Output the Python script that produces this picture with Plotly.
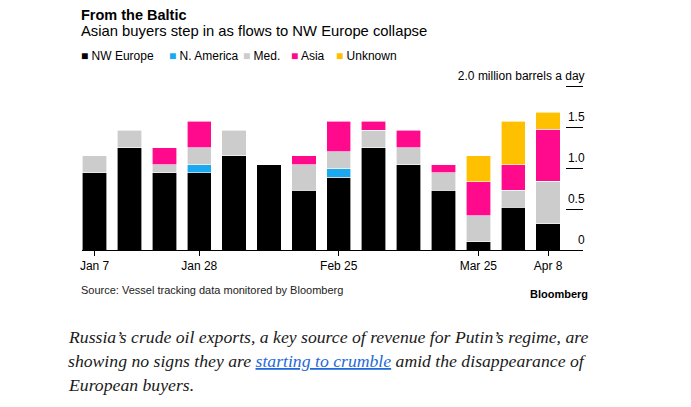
import plotly.graph_objects as go

# ---- data ----
dates = ["Jan 7", "Jan 14", "Jan 21", "Jan 28", "Feb 4", "Feb 11", "Feb 18",
         "Feb 25", "Mar 4", "Mar 11", "Mar 18", "Mar 25", "Apr 1", "Apr 8"]
nw_europe = [0.94, 1.25, 0.94, 0.94, 1.15, 1.04, 0.73, 0.89, 1.25, 1.04, 0.73, 0.10, 0.52, 0.32]
n_america = [None, None, None, 0.10, None, None, None, 0.10, None, None, None, None, None, None]
med = [0.21, 0.21, 0.10, 0.21, 0.31, None, 0.31, 0.21, 0.21, 0.21, 0.21, 0.32, 0.21, 0.52]
asia = [None, None, 0.21, 0.32, None, None, 0.11, 0.37, 0.11, 0.21, 0.10, 0.41, 0.31, 0.63]
unknown = [None, None, None, None, None, None, None, None, None, None, None, 0.32, 0.53, 0.21]

series_names = ["NW Europe", "N. America", "Med.", "Asia", "Unknown"]
series_colors = ["#000000", "#1AA8F0", "#CCCCCC", "#FF0A8C", "#FFC000"]
series_values = [nw_europe, n_america, med, asia, unknown]

x_tick_labels = ["Jan 7", "Jan 28", "Feb 25", "Mar 25", "Apr 8"]
y_tick_values = [0, 0.5, 1.0, 1.5, 2.0]
y_tick_labels = ["0", "0.5", "1.0", "1.5", "2.0 million barrels a day"]

title = "From the Baltic"
subtitle = "Asian buyers step in as flows to NW Europe collapse"
source = "Source: Vessel tracking data monitored by Bloomberg"
para = [
    "Russia’s crude oil exports, a key source of revenue for Putin’s regime, are",
    "showing no signs they are <span style=\"color:#1F6AD8\"><u>starting to crumble</u></span> amid the disappearance of",
    "European buyers.",
]

# ---- layout helpers (pixel -> paper) ----
W, H = 691, 407
L, R, T, B = 82, 108, 86, 157


def px(x):
    return (x - L) / (W - L - R)


def py(y):
    return (H - B - y) / (H - B - T)


SANS = "Liberation Sans, Arial, sans-serif"
SERIF = "Liberation Serif, Times New Roman, serif"

fig = go.Figure()
for name, vals, col in zip(series_names, series_values, series_colors):
    fig.add_bar(x=dates, y=vals, name=name, showlegend=False,
                marker=dict(color=col, line=dict(color="white", width=0.6)))

fig.update_layout(
    barmode="stack", bargap=0.3,
    width=W, height=H,
    margin=dict(l=L, r=R, t=T, b=B, pad=0),
    paper_bgcolor="white", plot_bgcolor="white",
    font=dict(family=SANS, color="#000000", size=12),
)

fig.update_xaxes(
    type="category", range=[-0.36, 14.0], automargin=False,
    tickmode="array", tickvals=x_tick_labels, ticktext=x_tick_labels,
    ticks="outside", ticklen=5, tickwidth=1, tickcolor="#000000",
    showline=True, linecolor="#000000", linewidth=1, showgrid=False,
    tickfont=dict(size=12, color="#000000"),
)
fig.update_yaxes(
    range=[0, 2.0], side="left", anchor="free", position=1.0, automargin=False,
    tickmode="array", tickvals=y_tick_values, ticktext=y_tick_labels,
    ticks="outside", ticklen=17, tickwidth=1, tickcolor="#000000",
    ticklabelstandoff=-21, ticklabelshift=-10,
    showgrid=False, zeroline=False, showline=False,
    tickfont=dict(size=12, color="#000000"),
)

ann = []
ann.append(dict(text="<b>" + title + "</b>", x=px(79), y=py(15), font=dict(size=14.5, family=SANS, color="#000000")))
ann.append(dict(text=subtitle, x=px(79), y=py(31), font=dict(size=14.8, family=SANS, color="#000000")))

legend_x = [79, 167, 241, 289, 334]
for lx, name, col in zip(legend_x, series_names, series_colors):
    ann.append(dict(text=f'<span style="color:{col}">■</span> {name}', x=px(lx), y=py(56.5),
                    font=dict(size=12, family=SANS, color="#000000")))

ann.append(dict(text=source, x=px(79), y=py(290), font=dict(size=11, family=SANS, color="#222222")))
ann.append(dict(text="<b>Bloomberg</b>", x=px(590), y=py(294), xanchor="right",
                font=dict(size=11, family=SANS, color="#000000")))

for i, line in enumerate(para):
    ann.append(dict(text="<i>" + line + "</i>", x=px(66), y=py(337 + 24 * i),
                    font=dict(size=17.7, family=SERIF, color="#1A1A1A")))

for a in ann:
    a.setdefault("xanchor", "left")
    a.update(xref="paper", yref="paper", yanchor="middle", showarrow=False)
fig.update_layout(annotations=ann)

fig.write_html("out.html")
